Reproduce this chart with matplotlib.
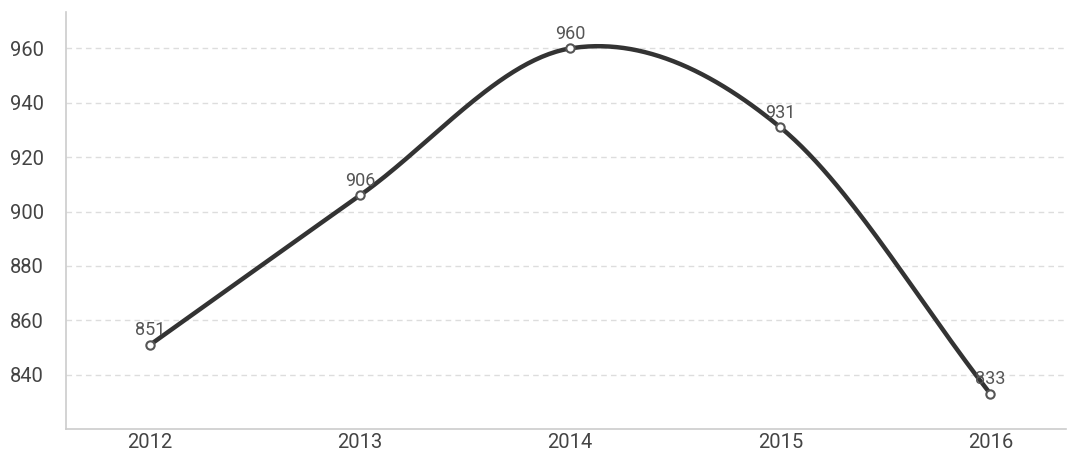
import numpy as np
import matplotlib.pyplot as plt

plt.rcParams['font.family'] = ['Roboto', 'DejaVu Sans']

years = [2012, 2013, 2014, 2015, 2016]
values = [851, 906, 960, 931, 833]
year_labels = ['2012', '2013', '2014', '2015', '2016']
y_ticks = [840, 860, 880, 900, 920, 940, 960]


def cardinal_curve(xs, ys, n=60):
    # catmull-rom style hermite curve through the points
    xs = np.asarray(xs, dtype=float)
    ys = np.asarray(ys, dtype=float)
    m = np.zeros_like(ys)
    m[1:-1] = (ys[2:] - ys[:-2]) / (xs[2:] - xs[:-2])
    m[0] = (ys[1] - ys[0]) / (xs[1] - xs[0])
    m[-1] = (ys[-1] - ys[-2]) / (xs[-1] - xs[-2])
    cx, cy = [], []
    for i in range(len(xs) - 1):
        h = xs[i + 1] - xs[i]
        t = np.linspace(0, 1, n)
        h00 = 2 * t**3 - 3 * t**2 + 1
        h10 = t**3 - 2 * t**2 + t
        h01 = -2 * t**3 + 3 * t**2
        h11 = t**3 - t**2
        cx.extend(xs[i] + t * h)
        cy.extend(h00 * ys[i] + h10 * h * m[i] + h01 * ys[i + 1] + h11 * h * m[i + 1])
    return np.array(cx), np.array(cy)


fig = plt.figure(figsize=(10.67, 4.54), dpi=100)
ax = fig.add_axes([0.062, 0.055, 0.937, 0.918])

cx, cy = cardinal_curve(years, values)
ax.plot(cx, cy, color='#333333', lw=3.2, solid_capstyle='round', zorder=3)
ax.plot(years, values, 'o', ms=6, mfc='white', mec='#555555', mew=1.5, zorder=4)

for x, v in zip(years, values):
    ax.annotate(str(v), (x, v), xytext=(0, 4), textcoords='offset points',
                ha='center', va='bottom', fontsize=13, color='#555555', zorder=5)

ax.set_xlim(2011.6, 2016.36)
ax.set_ylim(820, 973.3)
ax.set_xticks(years)
ax.set_xticklabels(year_labels)
ax.set_yticks(y_ticks)

ax.grid(axis='y', color='#dddddd', linestyle=(0, (4, 3)), lw=1)
ax.set_axisbelow(True)
ax.tick_params(length=0, labelsize=14.5, colors='#444444')
ax.tick_params(axis='x', pad=3)
ax.tick_params(axis='y', pad=16)

for side in ['top', 'right']:
    ax.spines[side].set_visible(False)
for side in ['left', 'bottom']:
    ax.spines[side].set_color('#cccccc')
    ax.spines[side].set_linewidth(1.2)

fig.savefig('out.png', dpi=100)
